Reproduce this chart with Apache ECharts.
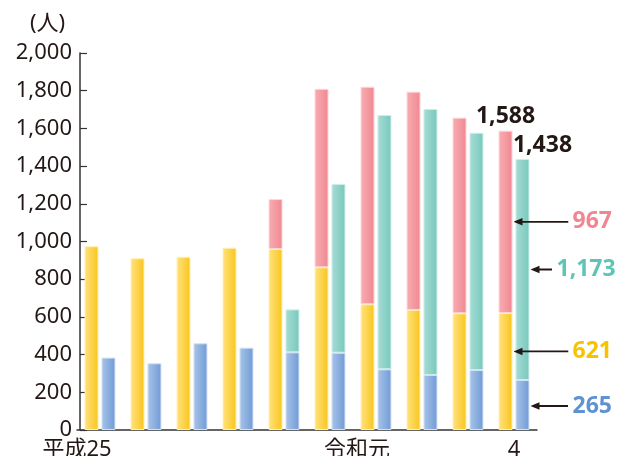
<!DOCTYPE html>
<html>
<head>
<meta charset="utf-8">
<script src="https://cdn.jsdelivr.net/npm/echarts@6/dist/echarts.min.js"></script>
<style>
html,body{margin:0;padding:0;background:#fff;}
#c{width:617px;height:456px;}
</style>
</head>
<body>
<div id="c"></div>
<script>
var categories = ['平成25','26','27','28','29','30','令和元','2','3','4'];
var xTickLabels = ['平成25','','','','','','令和元','','','4'];
var yellowValues = [975, 911, 919, 967, 960, 863, 667, 637, 619, 621];
var pinkValues   = [null, null, null, null, 265, 947, 1154, 1158, 1038, 967];
var blueValues   = [384, 354, 460, 437, 412, 410, 322, 292, 318, 265];
var tealValues   = [null, null, null, null, 228, 895, 1349, 1411, 1259, 1173];
var yTicks = [0, 200, 400, 600, 800, 1000, 1200, 1400, 1600, 1800, 2000];

var FONT = '"Noto Sans","Noto Sans CJK JP",sans-serif';
var last = categories.length - 1;
var totalL = yellowValues[last] + pinkValues[last];
var totalR = blueValues[last] + tealValues[last];
function fmt(v){ return v.toLocaleString('en-US'); }

function arrowSvg(len){
  var s = '<svg xmlns="http://www.w3.org/2000/svg" width="'+len+'" height="10" viewBox="0 0 '+len+' 10">' +
    '<line x1="6" y1="5" x2="'+len+'" y2="5" stroke="#231815" stroke-width="1.8"/>' +
    '<path d="M0 5 L9 1.2 L9 8.8 Z" fill="#231815"/></svg>';
  return 'data:image/svg+xml;charset=utf-8,' + encodeURIComponent(s);
}
function arrowLabel(len, color, offset){
  return {
    show: true, position: 'right', distance: 1, offset: offset || [0,0],
    formatter: function(p){ return '{a|}{v|' + fmt(p.value) + '}'; },
    rich: {
      a: { width: len, height: 10, backgroundColor: { image: arrowSvg(len) } },
      v: { color: color, fontSize: 23, fontWeight: 'bold', fontFamily: FONT, padding: [0,0,0,4] }
    }
  };
}
function grad(c1, c2){
  return new echarts.graphic.LinearGradient(0,0,1,0,[{offset:0,color:c1},{offset:1,color:c2}]);
}
function withLastLabel(arr, label){
  return arr.map(function(v,i){
    if(i === last) return { value: v, label: label };
    return v;
  });
}

var chart = echarts.init(document.getElementById('c'), null, {renderer:'canvas'});
chart.setOption({
  animation: false,
  textStyle: { fontFamily: FONT },
  title: {
    text: '(人)', left: 25, top: 8,
    textStyle: { fontSize: 22, fontWeight: 'normal', color: '#231815', fontFamily: FONT }
  },
  grid: { left: 77, width: 460, top: 53, height: 377, containLabel: false, outerBoundsMode: 'none' },
  xAxis: {
    type: 'category',
    data: categories,
    boundaryGap: true,
    axisLine: { show: true, lineStyle: { color: '#333', width: 1.5 } },
    axisTick: { show: false },
    axisLabel: {
      interval: 0, margin: 9, fontSize: 22, color: '#231815', fontFamily: FONT,
      formatter: function(v, i){
        var t = xTickLabels[i];
        if(!t) return '';
        if(i === 0) return '{p0|' + t + '}';
        if(i === 6) return '{p6|' + t + '}';
        return '{p|' + t + '}';
      },
      rich: {
        p0: { fontSize: 22, color:'#231815', fontFamily: FONT, padding: [0,46,0,0] },
        p6: { fontSize: 22, color:'#231815', fontFamily: FONT, padding: [0,38,0,0] },
        p:  { fontSize: 22, color:'#231815', fontFamily: FONT }
      }
    }
  },
  yAxis: {
    type: 'value',
    min: yTicks[0], max: yTicks[yTicks.length-1], interval: yTicks[1]-yTicks[0],
    offset: -3,
    axisLine: { show: true, lineStyle: { color: '#333', width: 1.5 } },
    axisTick: { show: true, inside: true, length: 7, lineStyle: { color: '#333', width: 1.2 } },
    splitLine: { show: false },
    axisLabel: {
      margin: 8, fontSize: 22, color: '#231815', fontFamily: FONT,
      formatter: function(v){ return fmt(v); }
    }
  },
  series: [
    {
      name: 'yellow', type: 'bar', stack: 'L', barWidth: 14, barGap: '21%', z: 3,
      data: withLastLabel(yellowValues, arrowLabel(55, '#F7C300', [0,-20])),
      itemStyle: { color: grad('#FFE27F', '#F9C51C'), borderColor: '#FFF0B8', borderWidth: 1 }
    },
    {
      name: 'pink', type: 'bar', stack: 'L', barWidth: 14, barGap: '21%', z: 3,
      data: withLastLabel(pinkValues, arrowLabel(55, '#EF8691')),
      itemStyle: { color: grad('#F8ADB2', '#F08892'), borderColor: '#FCD6D9', borderWidth: 1 },
      markPoint: {
        symbol: 'circle', symbolSize: 0,
        data: [{ coord: [last, totalL], value: totalL }],
        label: {
          show: true, position: 'top', distance: 3, offset: [0, 0],
          formatter: function(p){ return fmt(p.value); },
          fontSize: 23, fontWeight: 'bold', color: '#231815', fontFamily: FONT
        }
      }
    },
    {
      name: 'blue', type: 'bar', stack: 'R', barWidth: 14, barGap: '21%', z: 2,
      data: withLastLabel(blueValues, arrowLabel(38, '#5E92D3', [0,1])),
      itemStyle: { color: grad('#A9C4E8', '#6F9BD6'), borderColor: '#D3E1F4', borderWidth: 1 }
    },
    {
      name: 'teal', type: 'bar', stack: 'R', barWidth: 14, barGap: '21%', z: 2,
      data: withLastLabel(tealValues, arrowLabel(22, '#5EC4B5')),
      itemStyle: { color: grad('#A6DDD5', '#77C8BC'), borderColor: '#CFEEE9', borderWidth: 1 },
      markPoint: {
        symbol: 'circle', symbolSize: 0,
        data: [{ coord: [last, totalR], value: totalR }],
        label: {
          show: true, position: 'top', distance: 2, offset: [20, 0],
          formatter: function(p){ return fmt(p.value); },
          fontSize: 23, fontWeight: 'bold', color: '#231815', fontFamily: FONT
        }
      }
    }
  ]
});
</script>
</body>
</html>
